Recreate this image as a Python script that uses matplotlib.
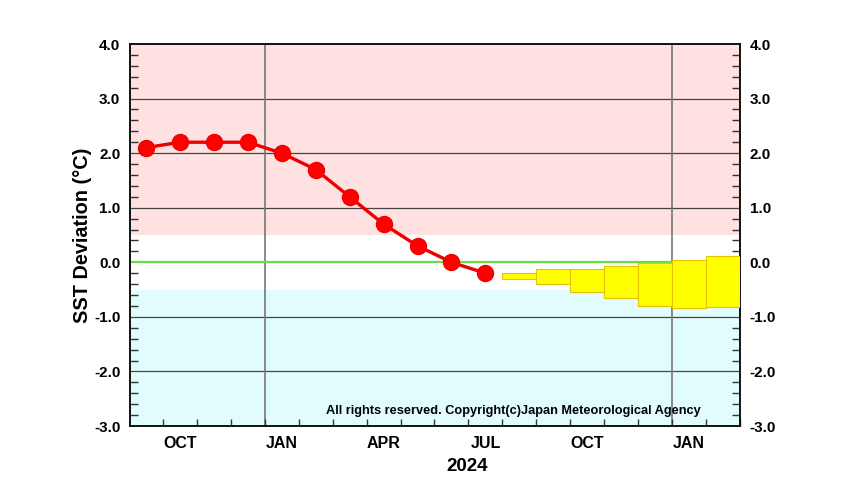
import matplotlib
matplotlib.use("Agg")
import matplotlib.pyplot as plt
import matplotlib.patches as mpatches
import numpy as np

plt.rcParams['font.family'] = ['Liberation Sans', 'DejaVu Sans']

# Observed monthly values, Sep 2023 .. Jul 2024
obs_months = ["2023-09", "2023-10", "2023-11", "2023-12", "2024-01", "2024-02",
              "2024-03", "2024-04", "2024-05", "2024-06", "2024-07"]
obs_values = [2.1, 2.2, 2.2, 2.2, 2.0, 1.7, 1.2, 0.7, 0.3, 0.0, -0.2]

# Forecast range boxes, Aug 2024 .. Feb 2025
fc_months = ["2024-08", "2024-09", "2024-10", "2024-11", "2024-12", "2025-01", "2025-02"]
fc_low = [-0.3, -0.4, -0.55, -0.65, -0.8, -0.84, -0.82]
fc_high = [-0.2, -0.13, -0.12, -0.07, -0.02, 0.04, 0.12]

all_months = obs_months + fc_months
tick_labels = ["OCT", "JAN", "APR", "JUL", "OCT", "JAN"]
tick_months = ["2023-10", "2024-01", "2024-04", "2024-07", "2024-10", "2025-01"]
year_lines = ["2024-01", "2025-01"]

idx = {m: i for i, m in enumerate(all_months)}

fig = plt.figure(figsize=(8.55, 4.93), dpi=100)
ax = fig.add_axes([130/855, 1-426/493, 610/855, 382/493])

xmin, xmax = -0.47, len(all_months) - 0.53
ax.set_xlim(xmin, xmax)
ax.set_ylim(-3.0, 4.0)

# background bands
ax.axhspan(0.5, 4.0, color='#FFE1E1', zorder=0, lw=0)
ax.axhspan(-3.0, -0.5, color='#E1FCFD', zorder=0, lw=0)

# grid lines
for yv in [-2, -1, 1, 2, 3]:
    ax.axhline(yv, color='#444444', lw=0.9, zorder=1)
for m in year_lines:
    ax.axvline(idx[m] - 0.5, color='#777777', lw=1.2, zorder=1)

ax.axhline(0.0, color='#66DD44', lw=1.6, zorder=2)

# forecast boxes
for m, lo, hi in zip(fc_months, fc_low, fc_high):
    x = idx[m]
    ax.add_patch(mpatches.Rectangle((x - 0.5, lo), 1.0, hi - lo,
                                    facecolor='#FFFF00', edgecolor='#E6C200',
                                    lw=0.8, zorder=3))

# observations
xo = [idx[m] for m in obs_months]
ax.plot(xo, obs_values, color='#EE0000', lw=2.4, marker='o', markersize=11.5,
        markerfacecolor='#FF0000', markeredgecolor='#EE0000', zorder=5,
        clip_on=False)

# ticks
ax.set_xticks([idx[m] for m in tick_months])
ax.set_xticklabels(tick_labels, fontsize=11.5, fontweight='bold')
ax.set_xticks(np.arange(-0.5, len(all_months) - 0.5 + 0.01, 1.0)[1:], minor=True)
ax.tick_params(axis='x', which='major', length=0, pad=7)
ax.tick_params(axis='x', which='minor', direction='in', length=5, width=1, color='#333333')

yt = np.arange(-3, 4.01, 1.0)
ax.set_yticks(yt)
ax.set_yticklabels([f"{v:.1f}" for v in yt], fontsize=11, fontweight='bold')
ax.set_yticks(np.arange(-3, 4.01, 0.2), minor=True)
ax.tick_params(axis='y', which='both', direction='in', left=True, right=True,
               labelleft=True, labelright=True, color='#333333')
ax.tick_params(axis='y', which='major', length=0, pad=7)
ax.tick_params(axis='y', which='minor', length=6, width=1)

for s in ax.spines.values():
    s.set_linewidth(1.4)
    s.set_color('#111111')

ax.set_ylabel("SST Deviation (°C)", fontsize=14.3, fontweight='bold')
ax.yaxis.set_label_coords(-0.062, 0.5)
ax.text(9.47, -0.106, "2024", transform=ax.get_xaxis_transform(), ha='center',
        va='center', fontsize=13.5, fontweight='bold')

ax.text(0.935, 0.039, "All rights reserved. Copyright(c)Japan Meteorological Agency",
        transform=ax.transAxes, ha='right', va='center', fontsize=9.2,
        fontweight='bold', zorder=6)

fig.savefig("out.png", dpi=100)
